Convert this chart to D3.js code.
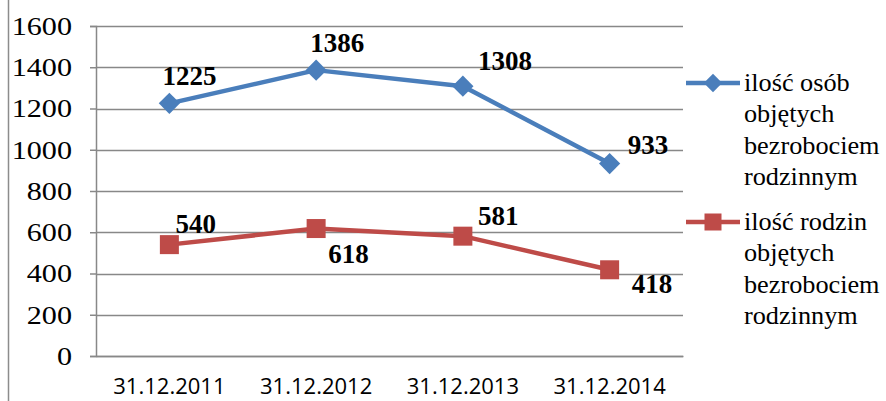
<!DOCTYPE html>
<html>
<head>
<meta charset="utf-8">
<script src="https://cdn.jsdelivr.net/npm/d3@7"></script>
<style>
	body { margin: 0; background: #fff; }
	svg { display: block; }
	svg text { font-family: "Liberation Serif", "Times New Roman", serif; fill: #000; }
	svg text.xlab { font-family: "Open Sans", sans-serif; }
</style>
</head>
<body>
<div id="content"></div>
<script>
var categories = ["31.12.2011", "31.12.2012", "31.12.2013", "31.12.2014"];
var osoby = [1225, 1386, 1308, 933];
var rodziny = [540, 618, 581, 418];
var yTicks = [0, 200, 400, 600, 800, 1000, 1200, 1400, 1600];
var legendOsoby = ["ilość osób", "objętych", "bezrobociem", "rodzinnym"];
var legendRodziny = ["ilość rodzin", "objętych", "bezrobociem", "rodzinnym"];

// label nudges (px) per point, like Excel's manual placement
var osobyLabelOff = [[-7, -18], [-6, -18], [15, -16], [18, -10]];
var rodzinyLabelOff = [[6, -12], [12, 34], [15, -11], [22, 23]];

var W = 886, H = 401;
var margin = {top: 26, left: 96, right: W - 683, bottom: H - 356};
var width = W - margin.left - margin.right;
var height = H - margin.top - margin.bottom;

var svg = d3.select("#content").append("svg")
	.attr("width", W).attr("height", H);

// outer border on the left
svg.append("line").attr("x1", 8.5).attr("x2", 8.5).attr("y1", 0).attr("y2", H)
	.style("stroke", "#8c8c8c").style("stroke-width", 1.5);

var g = svg.append("g").attr("transform", "translate(" + margin.left + "," + margin.top + ")");

var x = d3.scaleBand().domain(categories).range([0, width]);
var y = d3.scaleLinear().domain([0, 1600]).range([height, 0]);

// gridlines
g.append("g").selectAll("line").data(yTicks).enter().append("line")
	.attr("x1", 0).attr("x2", width)
	.attr("y1", function (d) { return Math.round(y(d)) + 0.5; })
	.attr("y2", function (d) { return Math.round(y(d)) + 0.5; })
	.style("stroke", "#888").style("stroke-width", 1.5);

// y axis
var yAxis = d3.axisLeft(y).tickValues(yTicks).tickFormat(d3.format("d")).tickSize(6).tickPadding(18);
var ya = g.append("g").call(yAxis).attr("font-family", null);
ya.select(".domain").style("stroke", "#888").style("stroke-width", 1.5);
ya.selectAll(".tick line").style("stroke", "#888").style("stroke-width", 1.5);
// the reference's numbers are a bit wider than Times, stretch them around their right edge
ya.selectAll("text").style("font-size", "26px")
	.attr("transform", "translate(-24,0) scale(1.16,1) translate(24,0)");

// x axis labels
var xa = g.append("g").attr("transform", "translate(0," + height + ")")
	.call(d3.axisBottom(x).tickSize(0).tickPadding(22)).attr("font-family", null);
xa.select(".domain").style("stroke", "#888").style("stroke-width", 1.5);
xa.selectAll("text").attr("class", "xlab").style("font-size", "22px");

var line = d3.line()
	.x(function (d, i) { return x(categories[i]) + x.bandwidth() / 2; })
	.y(function (d) { return y(d); });

var blue = "#4a7ebb", red = "#be4b48";

function drawMarker(parent, cx, cy, shape, color, s) {
	parent.append("rect")
		.attr("x", -s / 2).attr("y", -s / 2).attr("width", s).attr("height", s)
		.attr("transform", "translate(" + cx + "," + cy + ")" + (shape === "diamond" ? " rotate(45)" : ""))
		.style("fill", color);
}

function series(vals, color, shape, offs) {
	g.append("path").datum(vals).attr("d", line)
		.style("fill", "none").style("stroke", color).style("stroke-width", 4.5)
		.style("stroke-linejoin", "round");
	vals.forEach(function (d, i) {
		drawMarker(g, x(categories[i]) + x.bandwidth() / 2, y(d), shape, color, shape === "diamond" ? 15 : 19);
	});
	g.selectAll(null).data(vals).enter().append("text")
		.attr("x", function (d, i) { return x(categories[i]) + x.bandwidth() / 2 + offs[i][0]; })
		.attr("y", function (d, i) { return y(d) + offs[i][1]; })
		.text(function (d) { return d; })
		.style("font-weight", "bold").style("font-size", "27px");
}

series(osoby, blue, "diamond", osobyLabelOff);
series(rodziny, red, "square", rodzinyLabelOff);

// legend
function legend(ly, color, shape, lines) {
	var lg = svg.append("g").attr("transform", "translate(0," + ly + ")");
	lg.append("line").attr("x1", 686).attr("x2", 740).attr("y1", 0).attr("y2", 0)
		.style("stroke", color).style("stroke-width", 4.5);
	drawMarker(lg, 713, 0, shape, color, shape === "diamond" ? 13 : 17);
	lg.selectAll("text").data(lines).enter().append("text")
		.attr("x", 744).attr("y", function (d, i) { return i * 31.5; })
		.attr("dy", "0.32em")
		.attr("transform", "translate(744,0) scale(1.05,1) translate(-744,0)")
		.text(function (d) { return d; })
		.style("font-size", "25px");
}
legend(83, blue, "diamond", legendOsoby);
legend(222, red, "square", legendRodziny);
</script>
</body>
</html>
